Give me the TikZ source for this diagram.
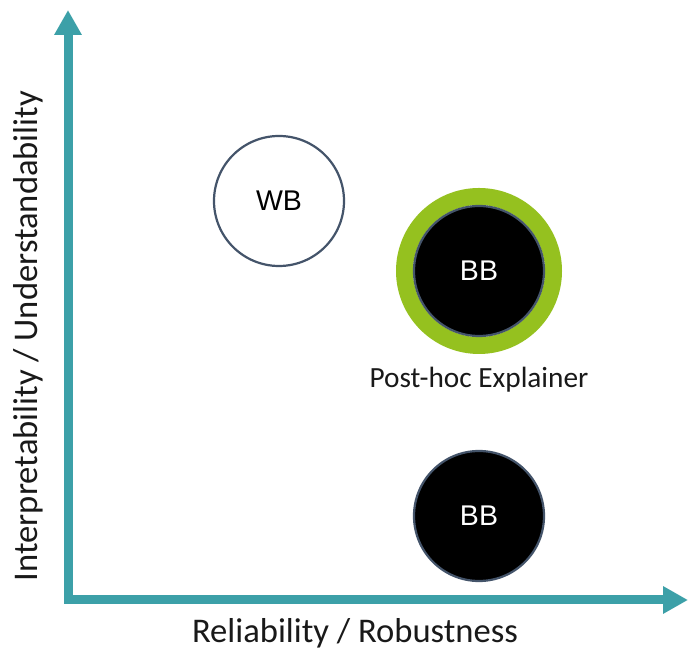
\documentclass[tikz,border=0pt]{standalone}
\usepackage{fontspec}
\setmainfont{Carlito}
\newfontfamily\arialf{Liberation Sans}
\usetikzlibrary{arrows.meta}
\definecolor{axisteal}{HTML}{3CA0A8}
\definecolor{slate}{HTML}{44546A}
\definecolor{ringgreen}{HTML}{95C11F}
\begin{document}
\begin{tikzpicture}[x=1pt,y=1pt,
  axisline/.style={draw=axisteal,line width=9pt,line join=miter,
    arrows={Triangle[length=25pt,width=26pt,fill=axisteal]-Triangle[length=25pt,width=26pt,fill=axisteal]}},
  wbox/.style={circle,draw=slate,line width=2.2pt,fill=white,minimum size=130pt,inner sep=0pt,
    font=\arialf\fontsize{28.5}{32}\selectfont},
  bbox/.style={circle,draw=slate,line width=2.2pt,fill=black,text=white,minimum size=130pt,inner sep=0pt,
    font=\arialf\fontsize{28.5}{32}\selectfont},
  ring/.style={circle,draw=ringgreen,line width=17pt,minimum size=149pt,inner sep=0pt},
  lbl/.style={font=\fontsize{34.6}{40}\selectfont,text=black!90,inner sep=0pt,anchor=base},
  sublbl/.style={font=\fontsize{29.3}{34}\selectfont,text=black!90,inner sep=0pt,anchor=base}
]
\useasboundingbox (0,0) rectangle (688,652);
\fill[white] (0,0) rectangle (688,652);
\coordinate (xend) at (688,52);
\coordinate (origin) at (68,52);
\coordinate (yend) at (68,642);
\draw[axisline] (xend) -- (origin) -- (yend);

\node[wbox] (wb) at (279,451) {WB};
\node[ring] (ring) at (479,381) {};
\node[bbox] (bb1) at (479,381) {BB};
\node[bbox] (bb2) at (479,136) {BB};

\node[sublbl] (post) at (479,264) {Post-hoc Explainer};
\node[lbl] (xlabel) at (355,9) {Reliability / Robustness};
\node[lbl,rotate=90] (ylabel) at (38,316) {Interpretability / Understandability};
\end{tikzpicture}
\end{document}
